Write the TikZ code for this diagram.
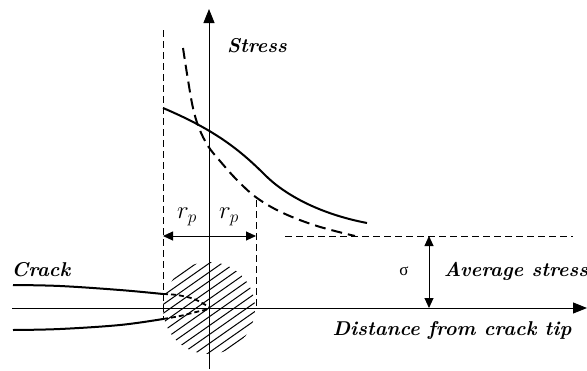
\documentclass[tikz,border=0pt]{standalone}
\usepackage{fontspec}
\newfontfamily\grk{Liberation Serif}
\usetikzlibrary{arrows.meta}
\begin{document}
\begin{tikzpicture}[x=1pt,y=-1pt,
  axis/.style={line width=0.9pt},
  bigtip/.style={-{Triangle[length=14pt,width=11pt]}},
  dimarrow/.style={line width=0.9pt,{Triangle[length=10pt,width=9pt]}-{Triangle[length=10pt,width=9pt]}},
  solidcurve/.style={line width=2pt},
  guide/.style={line width=0.9pt, dash pattern=on 7pt off 4pt},
  dcurve/.style={line width=2pt, dash pattern=on 11pt off 6pt},
  tipcurve/.style={line width=1.8pt, dash pattern=on 5pt off 3pt},
  hatch/.style={line width=1pt},
  lbl/.style={inner sep=0pt, font=\fontsize{20}{22}\selectfont\bfseries\itshape\addfontfeature{LetterSpace=#1}},
  mlbl/.style={inner sep=0pt, font=\fontsize{24}{26}\selectfont},
]
\useasboundingbox (0,0) rectangle (587,370);

% hatched plastic zone
\begin{scope}
  \clip (209,308) circle (46);
  \begin{scope}[shift={(209,308)}, rotate=35]
    \foreach \k in {-7,...,7} \draw[hatch] (-60,\k*7.3) -- (60,\k*7.3);
  \end{scope}
\end{scope}

% coordinates
\coordinate (O) at (209,308);
\coordinate (yTop) at (209,9);
\coordinate (yBot) at (209,369);
\coordinate (xL) at (12,308);
\coordinate (xR) at (587,308);
\coordinate (dl1) at (163,30);
\coordinate (dl2) at (163,320);
\coordinate (dr1) at (256,200);
\coordinate (dr2) at (256,308);
\coordinate (av1) at (285,236);
\coordinate (av2) at (573,236);
\coordinate (s1) at (429,236);
\coordinate (s2) at (429,308);
\coordinate (r1) at (163,236);
\coordinate (r2) at (256,236);

% axes
\draw[axis,bigtip] (yBot) -- (yTop);
\draw[axis,bigtip] (xL) -- (xR);

% guide lines
\draw[guide] (dl1) -- (dl2);
\draw[guide] (dr1) -- (dr2);
\draw[guide] (av1) -- (av2);

% dimension arrows
\draw[dimarrow] (s1) -- (s2);
\draw[dimarrow] (r1) -- (r2);

% stress curves
\draw[solidcurve] (163,108) .. controls (215,130) and (240,150) .. (265,175)
                            .. controls (285,195) and (320,214) .. (367,223);
\draw[dcurve] plot[smooth, tension=0.6] coordinates {(183,48) (188,80) (193,108) (199,128) (208,146) (220,161) (237,180) (257,198) (283,213) (317,226) (355,236)};

% crack faces
\draw[solidcurve] plot[smooth, tension=0.6] coordinates {(13,285) (60,286) (120,290) (163,294)};
\draw[solidcurve] plot[smooth, tension=0.6] coordinates {(13,330) (60,329) (120,325) (163,319)};
\draw[tipcurve] plot[smooth, tension=0.6] coordinates {(163,294) (177,295) (194,299) (209,307)};
\draw[tipcurve] plot[smooth, tension=0.6] coordinates {(163,319) (180,316) (196,312) (209,309)};

% labels
\node[lbl=12] (stress) at (257,46) {Stress};
\node[lbl=8] (crack) at (41,270) {Crack};
\node[lbl=13] (dist) at (452,330) {Distance from crack tip};
\node[lbl=6] (avg) at (516,271) {Average stress};
\node[inner sep=0pt, font=\fontsize{17}{20}\selectfont\grk] (sig) at (404,271) {σ};
\node[mlbl] (rp1) at (187,217) {$r_p$};
\node[mlbl] (rp2) at (229,217) {$r_p$};
\end{tikzpicture}
\end{document}
